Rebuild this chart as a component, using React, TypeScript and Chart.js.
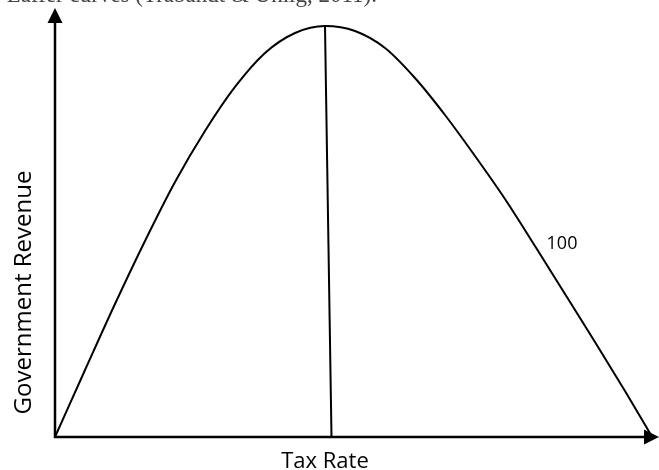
import React, { useEffect, useRef } from "react";
import { Chart, registerables } from "chart.js";

Chart.register(...registerables);

// Laffer curve (tax rate 0..100, revenue 0..100)
const curveX = [0, 4.97, 9.93, 14.9, 19.87, 24.83, 29.8, 34.77, 39.74, 44.7, 49.67, 54.64, 59.6, 64.57, 69.54, 74.5, 79.47, 84.44, 89.4, 94.37, 98.68];
const curveY = [0, 15.62, 31.0, 45.69, 59.44, 71.33, 81.59, 89.51, 94.17, 95.8, 94.64, 90.68, 83.68, 75.06, 65.5, 55.48, 44.52, 33.33, 22.14, 10.72, 0.47];

// line dropped from the peak to the tax-rate axis
const peakLineX = [44.7, 45.78];
const peakLineY = [95.8, 0];

// texts
const xTitle = "Tax Rate";
const yTitle = "Government Revenue";
const curveLabel = "100";
const curveLabelX = 83.94;
const curveLabelY = 45;
const captionText = "Laffer curves (Trabandt & Uhlig, 2011).";

const FONT = "'Open Sans', 'Noto Sans', sans-serif";

const decorPlugin = {
  id: "decor",
  afterDatasetsDraw(chart: any) {
    const { ctx, chartArea, scales } = chart;
    const { left, right, top, bottom } = chartArea;
    ctx.save();
    ctx.strokeStyle = "#000";
    ctx.fillStyle = "#000";
    ctx.lineWidth = 2.5;
    // y axis
    ctx.beginPath();
    ctx.moveTo(left, bottom + 1);
    ctx.lineTo(left, top + 12);
    ctx.stroke();
    ctx.beginPath();
    ctx.moveTo(left, top);
    ctx.lineTo(left - 7.5, top + 15);
    ctx.lineTo(left + 7.5, top + 15);
    ctx.closePath();
    ctx.fill();
    // x axis
    ctx.beginPath();
    ctx.moveTo(left - 1, bottom);
    ctx.lineTo(right - 12, bottom);
    ctx.stroke();
    ctx.beginPath();
    ctx.moveTo(right, bottom);
    ctx.lineTo(right - 15, bottom - 7.5);
    ctx.lineTo(right - 15, bottom + 7.5);
    ctx.closePath();
    ctx.fill();

    // curve label
    ctx.font = `18px ${FONT}`;
    ctx.textAlign = "center";
    ctx.textBaseline = "middle";
    ctx.fillText(curveLabel, scales.x.getPixelForValue(curveLabelX), scales.y.getPixelForValue(curveLabelY));

    // axis titles
    ctx.textBaseline = "alphabetic";
    ctx.font = `22px ${FONT}`;
    ctx.fillText(xTitle, scales.x.getPixelForValue(44.7), bottom + 31);
    ctx.save();
    ctx.font = `24px ${FONT}`;
    ctx.translate(31, (top + bottom) / 2 + 70);
    ctx.rotate(-Math.PI / 2);
    ctx.fillText(yTitle, 0, 0);
    ctx.restore();

    // caption cut off at the top of the picture
    ctx.font = `23px 'Liberation Serif', 'DejaVu Serif', serif`;
    ctx.fillStyle = "#444";
    ctx.textAlign = "right";
    ctx.textBaseline = "alphabetic";
    ctx.fillText(captionText, 377, 2);
    ctx.restore();
  },
};

export default function App() {
  const ref = useRef<HTMLCanvasElement | null>(null);
  useEffect(() => {
    if (!ref.current) return;
    const chart = new Chart(ref.current, {
      type: "scatter",
      data: {
        datasets: [
          {
            data: curveX.map((x, i) => ({ x, y: curveY[i] })),
            showLine: true,
            borderColor: "#000",
            borderWidth: 2,
            pointRadius: 0,
            cubicInterpolationMode: "monotone",
            clip: false,
          } as any,
          {
            data: peakLineX.map((x, i) => ({ x, y: peakLineY[i] })),
            showLine: true,
            borderColor: "#000",
            borderWidth: 2,
            pointRadius: 0,
            clip: false,
          } as any,
        ],
      },
      options: {
        responsive: false,
        animation: false,
        events: [],
        layout: { padding: { left: 55, right: 0, top: 8, bottom: 33 } },
        plugins: { legend: { display: false }, tooltip: { enabled: false }, title: { display: false } },
        scales: {
          x: { type: "linear", min: 0, max: 100, display: false },
          y: { type: "linear", min: 0, max: 100, display: false },
        },
      },
      plugins: [decorPlugin],
    });
    return () => chart.destroy();
  }, []);
  return (
    <div style={{ position: "fixed", left: 0, top: 0, width: 659, height: 470, background: "#fff" }}>
      <canvas ref={ref} width={659} height={470} style={{ display: "block" }} />
    </div>
  );
}
